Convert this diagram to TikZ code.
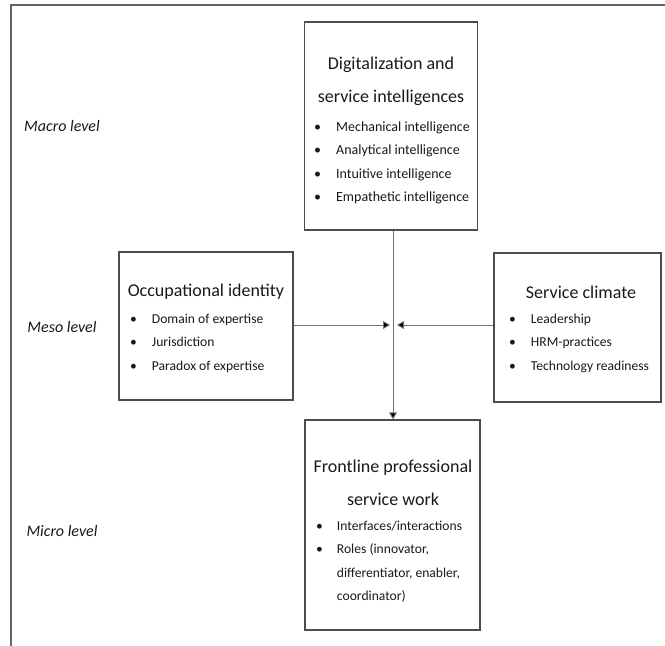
\documentclass[tikz,border=0pt]{standalone}
\usepackage{fontspec}
\setmainfont{Carlito}
\usetikzlibrary{arrows.meta}
\tikzset{
  box/.style={draw=black!70, line width=1.3pt, inner sep=0pt},
  frameline/.style={draw=black!60, line width=1.2pt},
  conn/.style={draw=black!55, line width=0.9pt, -{Triangle[length=7pt,width=8pt,fill=black]}},
  title/.style={align=center, inner sep=0pt, font=\fontsize{18}{33}\selectfont, text=black!90},
  blist/.style={inner sep=0pt, anchor=north west, font=\fontsize{13.6}{23.3}\selectfont, text=black!90},
  bigblist/.style={blist, font=\fontsize{14}{23.3}\selectfont},
  level/.style={inner sep=0pt, font=\fontsize{16}{18}\selectfont\itshape, text=black!90}
}
\newcommand{\bl}{\textbullet}
\begin{document}
\begin{tikzpicture}[x=1pt,y=-1pt]
\useasboundingbox (0,0) rectangle (665,646);
% frame
\coordinate (fa) at (11,646);
\coordinate (fb) at (11,5);
\coordinate (fc) at (665,5);
\draw[frameline] (fa) -- (fb) -- (fc);
% boxes
\node[box, minimum width=173pt, minimum height=208pt] (top) at (391,126) {};
\node[box, minimum width=174pt, minimum height=148pt] (left) at (206,326) {};
\node[box, minimum width=167pt, minimum height=149pt] (right) at (577.5,327.5) {};
\node[box, minimum width=175pt, minimum height=210pt] (bot) at (392.5,525) {};
% top box text
\node[title] (toptitle) at (391,81) {Digitalization and\\service intelligences};
\node[bigblist] (toplist) at (314,115) {%
  \begin{tabular}{@{}l@{\hspace{15pt}}l@{}}
  \bl & Mechanical intelligence\\
  \bl & Analytical intelligence\\
  \bl & Intuitive intelligence\\
  \bl & Empathetic intelligence
  \end{tabular}};
% left box text
\node[title] (lefttitle) at (206,292) {Occupational identity};
\node[blist] (leftlist) at (130,307) {%
  \begin{tabular}{@{}l@{\hspace{15pt}}l@{}}
  \bl & Domain of expertise\\
  \bl & Jurisdiction\\
  \bl & Paradox of expertise
  \end{tabular}};
% right box text
\node[title] (righttitle) at (581,292) {Service climate};
\node[blist] (rightlist) at (509,307) {%
  \begin{tabular}{@{}l@{\hspace{15pt}}l@{}}
  \bl & Leadership\\
  \bl & HRM-practices\\
  \bl & Technology readiness
  \end{tabular}};
% bottom box text
\node[title] (bottitle) at (393,483) {Frontline professional\\service work};
\node[blist] (botlist) at (316,514) {%
  \begin{tabular}{@{}l@{\hspace{14pt}}l@{}}
  \bl & Interfaces/interactions\\
  \bl & Roles (innovator,\\
      & differentiator, enabler,\\
      & coordinator)
  \end{tabular}};
% level labels
\node[level] (macro) at (62,126) {Macro level};
\node[level] (meso) at (62,327) {Meso level};
\node[level] (micro) at (62,531) {Micro level};
% connectors
\coordinate (jl) at (390,325);
\coordinate (jr) at (397,325);
\draw[conn] (left.east |- jl) -- (jl);
\draw[conn] (right.west |- jr) -- (jr);
\draw[conn] (top.south -| 393,0) -- (bot.north -| 393,0);
\end{tikzpicture}
\end{document}
